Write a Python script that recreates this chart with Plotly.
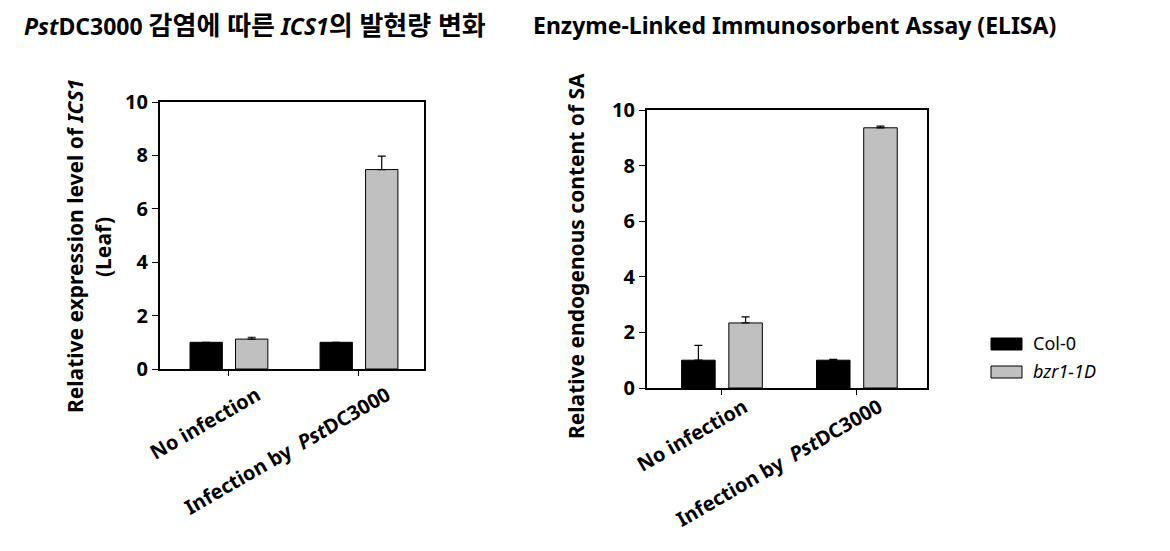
import plotly.graph_objects as go

# ---------------- data ----------------
categories = ["No infection", "Infection by  <i>Pst</i>DC3000"]
series_names = ["Col-0", "<i>bzr1-1D</i>"]

ics1_col0 = [1.0, 1.0]
ics1_col0_err = [0.0, 0.0]
ics1_bzr = [1.12, 7.47]
ics1_bzr_err = [0.07, 0.5]

sa_col0 = [1.0, 1.0]
sa_col0_err = [0.53, 0.03]
sa_bzr = [2.34, 9.36]
sa_bzr_err = [0.22, 0.06]

yticks = [0, 2, 4, 6, 8, 10]

KO = '<span style="font-size:26px">{}</span>'
title_left = ("<i>Pst</i>DC3000 " + KO.format("감염에 따른") + " <i>ICS1</i>"
              + KO.format("의 발현량 변화"))
title_right = "Enzyme-Linked Immunosorbent Assay (ELISA)"
ytitle_left = "Relative expression level of <i>ICS1</i>"
ytitle_left2 = "(Leaf)"
ytitle_right = "Relative endogenous content of SA"

# ---------------- style ----------------
W, H = 1170, 551
FONT = "Noto Sans, Noto Sans CJK KR, sans-serif"
colors = ["#000000", "#c0c0c0"]

fig = go.Figure()

def add_bars(vals, errs, name, color, xa, ya):
    fig.add_trace(go.Bar(
        x=categories, y=vals, name=name,
        marker=dict(color=color, line=dict(color="black", width=1)),
        error_y=dict(type="data", array=errs, arrayminus=[0] * len(errs),
                     symmetric=False, color="black", thickness=1.2, width=4),
        xaxis=xa, yaxis=ya, showlegend=False,
    ))

add_bars(ics1_col0, ics1_col0_err, series_names[0], colors[0], "x", "y")
add_bars(ics1_bzr, ics1_bzr_err, series_names[1], colors[1], "x", "y")
add_bars(sa_col0, sa_col0_err, series_names[0], colors[0], "x2", "y2")
add_bars(sa_bzr, sa_bzr_err, series_names[1], colors[1], "x2", "y2")

tickfont = dict(family=FONT, size=20, color="black", weight="bold")

def xaxis_cfg(domain, rng, shift, standoff):
    return dict(domain=domain, range=rng, showline=True, linecolor="black",
                linewidth=2, mirror=True, ticks="outside", ticklen=5,
                tickwidth=1, tickcolor="black", tickangle=-30,
                tickfont=tickfont, ticklabelshift=shift, ticklabelstandoff=standoff,
                showgrid=False, zeroline=False, fixedrange=True, automargin=False)

def yaxis_cfg(domain, anchor):
    return dict(domain=domain, range=[0, 10], tickvals=yticks,
                showline=True, linecolor="black", linewidth=2, mirror=True,
                ticks="outside", ticklen=6, tickwidth=1, tickcolor="black",
                tickfont=tickfont, showgrid=False, zeroline=False,
                anchor=anchor, fixedrange=True, automargin=False)

fig.update_layout(
    width=W, height=H,
    margin=dict(l=0, r=0, t=0, b=0, autoexpand=False),
    paper_bgcolor="white", plot_bgcolor="white",
    barmode="group", bargap=0.3, bargroupgap=0.29,
    font=dict(family=FONT, color="black"),
    showlegend=False,
    xaxis=xaxis_cfg([160 / W, 424 / W], [-0.53, 1.5], 28, 0) | dict(anchor="y"),
    yaxis=yaxis_cfg([1 - 369 / H, 1 - 102 / H], "x"),
    xaxis2=xaxis_cfg([647 / W, 927 / W], [-0.556, 1.52], 22, -7) | dict(anchor="y2"),
    yaxis2=yaxis_cfg([1 - 388 / H, 1 - 110 / H], "x2"),
)

annots = []
tfont = dict(family=FONT, size=23, color="black", weight="bold")
annots.append(dict(text=title_left, x=255 / W, y=1 - 25 / H, xref="paper", yref="paper",
                   xanchor="center", yanchor="middle", showarrow=False, font=tfont))
annots.append(dict(text=title_right, x=794 / W, y=1 - 25 / H, xref="paper", yref="paper",
                   xanchor="center", yanchor="middle", showarrow=False, font=tfont))
yfont = dict(family=FONT, size=21, color="black", weight="bold")
annots.append(dict(text=ytitle_left, x=75 / W, y=1 - 246 / H, xref="paper", yref="paper",
                   xanchor="center", yanchor="middle", textangle=-90, showarrow=False, font=yfont))
annots.append(dict(text=ytitle_left2, x=103 / W, y=1 - 247 / H, xref="paper", yref="paper",
                   xanchor="center", yanchor="middle", textangle=-90, showarrow=False, font=yfont))
annots.append(dict(text=ytitle_right, x=576 / W, y=1 - 256 / H, xref="paper", yref="paper",
                   xanchor="center", yanchor="middle", textangle=-90, showarrow=False, font=yfont))

# legend (drawn manually to match the wide swatches)
lfont = dict(family=FONT, size=18, color="black")
shapes = []
leg_y = [344, 372]
for i, (nm, col) in enumerate(zip(series_names, colors)):
    cy = leg_y[i]
    shapes.append(dict(type="rect", xref="paper", yref="paper",
                       x0=991 / W, x1=1022 / W, y0=1 - (cy + 6) / H, y1=1 - (cy - 6) / H,
                       fillcolor=col, line=dict(color="black", width=1)))
    annots.append(dict(text=nm, x=1031 / W, y=1 - (cy - 1) / H, xref="paper", yref="paper",
                       xanchor="left", yanchor="middle", showarrow=False, font=lfont))

fig.update_layout(annotations=annots, shapes=shapes)
fig.write_html("out.html")
